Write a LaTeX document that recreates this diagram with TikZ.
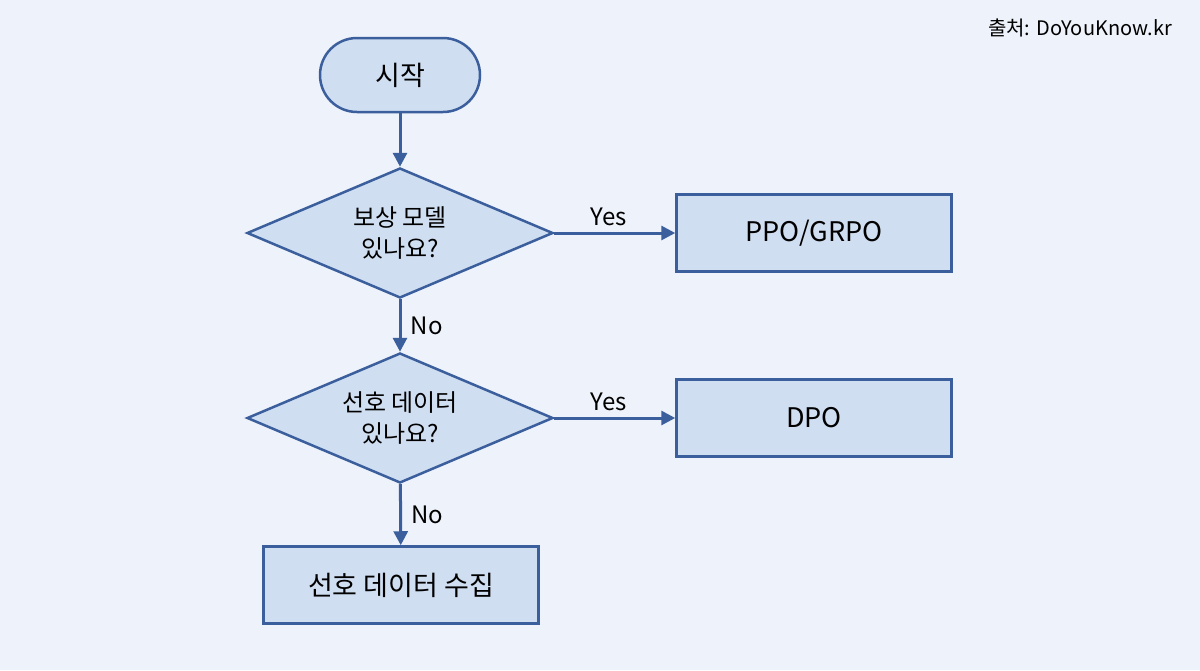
\documentclass[tikz,border=0pt]{standalone}
\usepackage{fontspec}
\setmainfont{Noto Sans CJK KR}
\usetikzlibrary{shapes.geometric,arrows.meta}
\definecolor{bg}{HTML}{EEF2FA}
\definecolor{fl}{HTML}{D0DEF1}
\definecolor{st}{HTML}{3B5F9D}
\begin{document}
\begin{tikzpicture}[x=1pt,y=-1pt,
 box/.style={draw=st,fill=fl,line width=2.5pt,minimum width=275pt,minimum height=77pt,font=\fontsize{27}{32}\selectfont},
 dia/.style={draw=st,fill=fl,line width=2.5pt,diamond,aspect=2.35,inner sep=0pt,minimum width=306pt,minimum height=130pt,align=center,font=\fontsize{24}{31}\selectfont},
 arr/.style={draw=st,line width=3pt,-{Triangle[length=14pt,width=14pt]}},
 lab/.style={font=\fontsize{24}{28}\selectfont}]
\fill[bg] (0,0) rectangle (1200,670);
\node[draw=st,fill=fl,line width=2.5pt,rounded corners=37pt,minimum width=160pt,minimum height=74pt,font=\fontsize{27}{32}\selectfont] (s) at (400,75) {시작};
\node[dia] (d1) at (400,233) {보상 모델\\있나요?};
\node[dia] (d2) at (400,418) {선호 데이터\\있나요?};
\node[box] (p) at (814,233) {PPO/GRPO};
\node[box] (q) at (814,418) {DPO};
\node[box] (c) at (401,585) {선호 데이터 수집};
\draw[arr] (s) -- (d1);
\draw[arr] (d1) -- (d2) node[lab,midway,right=6pt] (n1) {No};
\draw[arr] (d2) -- (c) node[lab,midway,right=6pt] (n2) {No};
\draw[arr] (d1) -- (p) node[lab,pos=0.45,above=2pt] (y1) {Yes};
\draw[arr] (d2) -- (q) node[lab,pos=0.45,above=2pt] (y2) {Yes};
\node[font=\fontsize{20}{24}\selectfont] (src) at (1080,28) {출처: DoYouKnow.kr};
\end{tikzpicture}
\end{document}
